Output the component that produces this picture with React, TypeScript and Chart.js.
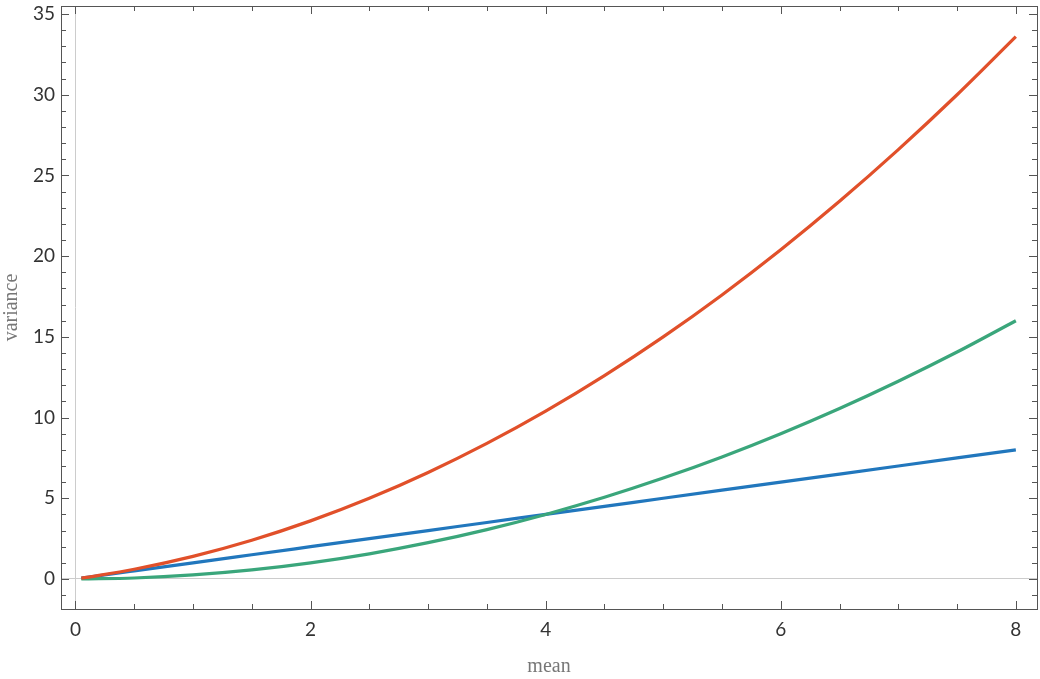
import { useEffect, useRef } from "react";
import { Chart, registerables, Plugin, Scale } from "chart.js";

Chart.register(...registerables);

// mean values where the curves were sampled
const meanValues = [0.05, 0.5, 1, 1.5, 2, 2.5, 3, 3.5, 4, 4.5, 5, 5.5, 6, 6.5, 7, 7.5, 8];
// variance for each curve
const blueVariance = [0.05, 0.5, 1, 1.5, 2, 2.5, 3, 3.5, 4, 4.5, 5, 5.5, 6, 6.5, 7, 7.5, 8];
const greenVariance = [0.0, 0.06, 0.25, 0.56, 1.0, 1.56, 2.25, 3.06, 4.0, 5.06, 6.25, 7.56, 9.0, 10.56, 12.25, 14.06, 16.0];
const redVariance = [0.05, 0.6, 1.4, 2.4, 3.6, 5.0, 6.6, 8.4, 10.4, 12.6, 15.0, 17.6, 20.4, 23.4, 26.6, 30.0, 33.6];

const xMajorTicks = [0, 2, 4, 6, 8];
const yMajorTicks = [0, 5, 10, 15, 20, 25, 30, 35];
const X_MINOR_STEP = 0.5;
const Y_MINOR_STEP = 1;

const FRAME = "#555555";

// all tick positions (major + minor) between the axis limits
const tickRange = (min: number, max: number, step: number) => {
  const out: number[] = [];
  for (let i = Math.ceil(min / step); i * step <= max + 1e-9; i++) out.push(+(i * step).toFixed(6));
  return out;
};

const fixTicks = (step: number) => (s: Scale) => {
  s.ticks = tickRange(s.min, s.max, step).map((value) => ({ value }));
};

const noPadding = (size: "width" | "height", px: number) => (s: any) => {
  s[size] = px;
  s.paddingLeft = 0;
  s.paddingRight = 0;
  s.paddingTop = 0;
  s.paddingBottom = 0;
};

// frame on all four sides with ticks pointing inward
const framePlugin: Plugin<"line"> = {
  id: "frame",
  afterDatasetsDraw(chart) {
    const { ctx, chartArea: a } = chart;
    const xs = chart.scales.x;
    const ys = chart.scales.y;
    ctx.save();
    ctx.strokeStyle = FRAME;
    ctx.lineWidth = 1;
    ctx.beginPath();
    for (const t of xs.ticks) {
      const px = Math.round(xs.getPixelForValue(t.value)) + 0.5;
      const len = xMajorTicks.includes(t.value) ? 8 : 5;
      ctx.moveTo(px, a.bottom);
      ctx.lineTo(px, a.bottom - len);
      ctx.moveTo(px, a.top);
      ctx.lineTo(px, a.top + len);
    }
    for (const t of ys.ticks) {
      const py = Math.round(ys.getPixelForValue(t.value)) + 0.5;
      const len = yMajorTicks.includes(t.value) ? 8 : 5;
      ctx.moveTo(a.left, py);
      ctx.lineTo(a.left + len, py);
      ctx.moveTo(a.right, py);
      ctx.lineTo(a.right - len, py);
    }
    ctx.stroke();
    ctx.strokeRect(Math.round(a.left) + 0.5, Math.round(a.top) + 0.5, Math.round(a.right - a.left), Math.round(a.bottom - a.top));
    ctx.restore();
  },
};

export default function App() {
  const canvasRef = useRef<HTMLCanvasElement>(null);
  const chartRef = useRef<Chart<"line"> | null>(null);

  useEffect(() => {
    if (!canvasRef.current) return;
    if (chartRef.current) chartRef.current.destroy();

    const pts = (ys: number[]) => meanValues.map((x, i) => ({ x, y: ys[i] }));
    const line = {
      borderWidth: 3.2,
      pointRadius: 0,
      fill: false,
      cubicInterpolationMode: "monotone" as const,
    };

    chartRef.current = new Chart(canvasRef.current, {
      type: "line",
      data: {
        datasets: [
          { label: "red", data: pts(redVariance), borderColor: "#e1502a", ...line },
          { label: "green", data: pts(greenVariance), borderColor: "#3aa67b", ...line },
          { label: "blue", data: pts(blueVariance), borderColor: "#2177bd", ...line },
        ],
      },
      options: {
        animation: false,
        responsive: false,
        devicePixelRatio: 1,
        layout: { padding: { top: 6, right: 3, left: 0, bottom: 0 } },
        plugins: { legend: { display: false }, tooltip: { enabled: false } },
        scales: {
          x: {
            type: "linear",
            min: -0.123,
            max: 8.18,
            afterBuildTicks: fixTicks(X_MINOR_STEP),
            afterFit: noPadding("height", 70),
            border: { display: false },
            grid: {
              drawTicks: false,
              color: (c) => (c.tick && c.tick.value === 0 ? "#cccccc" : "transparent"),
            },
            ticks: {
              autoSkip: false,
              maxRotation: 0,
              padding: 9,
              color: "#333333",
              font: { family: "Lato", size: 19 },
              callback: (v) => (xMajorTicks.includes(Number(v)) ? String(v) : ""),
            },
            title: {
              display: true,
              text: "mean",
              color: "#777777",
              font: { family: "Liberation Serif", size: 20 },
              padding: { top: 3, bottom: 0 },
            },
          },
          y: {
            type: "linear",
            min: -1.86,
            max: 35.5,
            afterBuildTicks: fixTicks(Y_MINOR_STEP),
            afterFit: noPadding("width", 61),
            border: { display: false },
            grid: {
              drawTicks: false,
              color: (c) => (c.tick && c.tick.value === 0 ? "#cccccc" : "transparent"),
            },
            ticks: {
              autoSkip: false,
              padding: 6,
              color: "#333333",
              font: { family: "Lato", size: 19 },
              callback: (v) => (yMajorTicks.includes(Number(v)) ? String(v) : ""),
            },
            title: {
              display: true,
              text: "variance",
              color: "#777777",
              font: { family: "Liberation Serif", size: 20 },
              padding: { top: 0, bottom: 0 },
            },
          },
        },
      },
      plugins: [framePlugin],
    });

    return () => {
      if (chartRef.current) {
        chartRef.current.destroy();
        chartRef.current = null;
      }
    };
  }, []);

  return (
    <div style={{ position: "fixed", left: 0, top: 0, width: 1040, height: 679, background: "#fff" }}>
      <canvas ref={canvasRef} width={1040} height={679} style={{ width: 1040, height: 679 }} />
    </div>
  );
}
